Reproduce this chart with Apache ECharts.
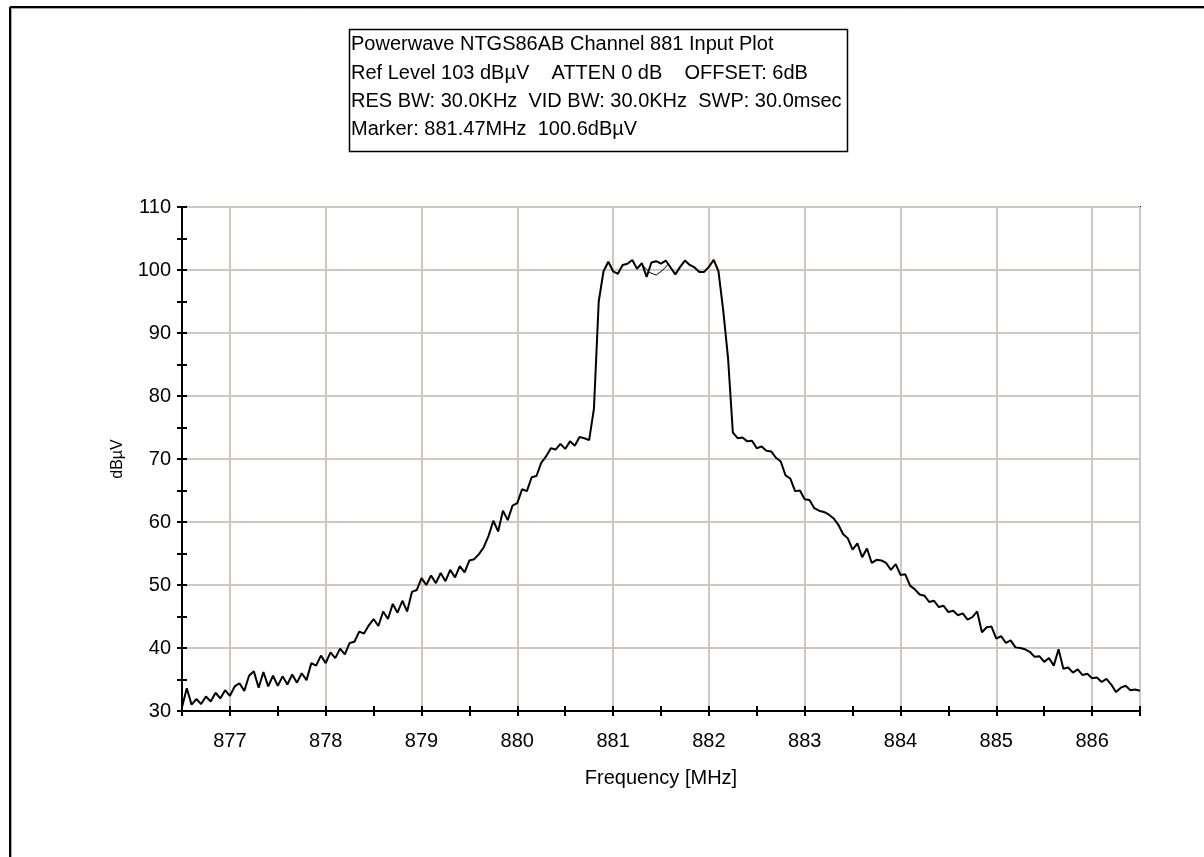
<!DOCTYPE html>
<html>
<head>
<meta charset="utf-8">
<title>Powerwave NTGS86AB Channel 881 Input Plot</title>
<script src="https://cdn.jsdelivr.net/npm/echarts@6/dist/echarts.min.js"></script>
<style>
  html, body { margin: 0; padding: 0; background: #fff; }
  #chart { width: 1204px; height: 857px; }
</style>
</head>
<body>
<div id="chart"></div>
<script>
// sweep: 876.5 .. 886.5 MHz, one reading every 0.05 MHz
const freqStart = 876.5;
const freqStep = 0.05;
const freqMin = 876.5;
const freqMax = 886.5;
const levelMin = 30;
const levelMax = 110;

// trace level in dBµV, one row per MHz (x.50 .. x+1.45)
const levelRows = [
  [30.6, 33.6, 31.0, 31.9, 31.1, 32.3, 31.5, 32.9, 32.0, 33.3, 32.4, 33.9, 34.4, 33.2, 35.6, 36.3, 33.7, 36.2, 33.9, 35.6],
  [34.0, 35.5, 34.2, 35.8, 34.5, 36.0, 34.9, 37.6, 37.2, 38.8, 37.6, 39.3, 38.4, 39.9, 39.0, 40.8, 41.0, 42.6, 42.3, 43.6],
  [44.6, 43.5, 45.8, 44.6, 47.0, 45.6, 47.5, 45.8, 48.9, 49.2, 51.1, 50.0, 51.5, 50.3, 51.9, 50.6, 52.4, 51.2, 53.0, 52.0],
  [53.9, 54.1, 54.9, 56.0, 57.8, 60.2, 58.5, 61.8, 60.3, 62.6, 63.0, 65.2, 64.9, 67.1, 67.3, 69.4, 70.4, 71.7, 71.5, 72.4],
  [71.6, 72.8, 72.1, 73.5, 73.3, 73.0, 78.0, 95.0, 99.8, 101.3, 99.8, 99.4, 100.8, 101.0, 101.6, 100.2, 101.1, 98.9, 101.2, 101.4],
  [101.0, 101.5, 100.4, 99.3, 100.5, 101.5, 100.8, 100.4, 99.7, 99.7, 100.5, 101.6, 99.8, 93.5, 86.0, 74.2, 73.3, 73.4, 72.8, 72.9],
  [71.7, 72.0, 71.3, 71.2, 70.2, 69.6, 67.4, 66.9, 64.9, 65.0, 63.6, 63.5, 62.2, 61.8, 61.6, 61.2, 60.6, 59.6, 58.1, 57.4],
  [55.6, 56.6, 54.4, 55.8, 53.5, 54.0, 53.9, 53.5, 52.4, 53.3, 51.6, 51.7, 49.9, 49.3, 48.5, 48.3, 47.3, 47.5, 46.5, 46.7],
  [45.7, 45.9, 45.2, 45.5, 44.5, 44.9, 45.8, 42.5, 43.3, 43.4, 41.5, 41.9, 40.8, 41.2, 40.1, 40.0, 39.8, 39.4, 38.6, 38.7],
  [37.8, 38.4, 37.2, 39.8, 36.7, 36.9, 36.1, 36.6, 35.7, 35.9, 35.2, 35.3, 34.6, 35.1, 34.2, 33.0, 33.7, 34.0, 33.3, 33.4],
  [33.2]
];

// short second trace on the passband top (marker sweep)
const markerFreq = [881.30, 881.38, 881.45, 881.52, 881.58];
const markerLevel = [100.9, 99.6, 99.2, 100.0, 101.0];

const infoLines = [
  'Powerwave NTGS86AB Channel 881 Input Plot',
  'Ref Level 103 dBµV    ATTEN 0 dB    OFFSET: 6dB',
  'RES BW: 30.0KHz  VID BW: 30.0KHz  SWP: 30.0msec',
  'Marker: 881.47MHz  100.6dBµV'
];
const infoLineY = [44, 73, 101, 129];

const COLORS = {
  ink: '#000000',
  grid: '#d2c6bd',
  frameShade: '#a8a8a8'
};
const FONT = '"Liberation Sans", Arial, sans-serif';

const trace = [];
levelRows.flat().forEach((v, i) => {
  trace.push([+(freqStart + i * freqStep).toFixed(2), v]);
});
const marker = markerFreq.map((f, i) => [f, markerLevel[i]]);

// axis used only for drawing the cross ticks
const tickAxis = (min, max, interval, inside, position) => ({
  type: 'value',
  position,
  min,
  max,
  interval,
  axisLine: { show: false, onZero: false },
  axisTick: { show: true, inside, length: 5, lineStyle: { color: COLORS.ink, width: 2 } },
  axisLabel: { show: false },
  splitLine: { show: false }
});

const infoText = infoLines.map((t, i) => ({
  type: 'text',
  x: 351,
  y: infoLineY[i],
  style: { text: t, font: `20px ${FONT}`, fill: COLORS.ink, verticalAlign: 'middle', textVerticalAlign: 'middle' }
}));

const option = {
  backgroundColor: '#fff',
  animation: false,
  grid: {
    left: 182,
    top: 207,
    width: 958,
    height: 504,
    show: true,
    borderColor: COLORS.ink,
    borderWidth: 2,
    containLabel: false
  },
  xAxis: [
    {
      type: 'value',
      position: 'bottom',
      min: freqMin,
      max: freqMax,
      splitNumber: 10,
      name: 'Frequency [MHz]',
      nameLocation: 'middle',
      nameGap: 57,
      nameTextStyle: { fontFamily: FONT, fontSize: 20, color: COLORS.ink },
      axisLine: { onZero: false, lineStyle: { color: COLORS.ink, width: 2 } },
      axisTick: { show: false },
      axisLabel: {
        fontFamily: FONT,
        fontSize: 20,
        color: COLORS.ink,
        margin: 20,
        formatter: v => (Number.isInteger(v) ? String(v) : '')
      },
      splitLine: { show: true, lineStyle: { color: COLORS.grid, width: 2 } }
    },
    tickAxis(freqMin, freqMax, 0.5, false, 'bottom'),
    tickAxis(freqMin, freqMax, 0.5, true, 'bottom')
  ],
  yAxis: [
    {
      type: 'value',
      position: 'left',
      min: levelMin,
      max: levelMax,
      interval: 10,
      name: 'dBµV',
      nameLocation: 'middle',
      nameRotate: 90,
      nameGap: 56,
      nameTextStyle: { fontFamily: FONT, fontSize: 16, color: COLORS.ink },
      axisLine: { onZero: false, lineStyle: { color: COLORS.ink, width: 2 } },
      axisTick: { show: false },
      axisLabel: { fontFamily: FONT, fontSize: 20, color: COLORS.ink, margin: 11 },
      splitLine: { show: true, lineStyle: { color: COLORS.grid, width: 2 } }
    },
    tickAxis(levelMin, levelMax, 5, false, 'left'),
    tickAxis(levelMin, levelMax, 5, true, 'left')
  ],
  series: [
    {
      name: 'trace',
      type: 'line',
      data: trace,
      symbol: 'none',
      smooth: false,
      clip: true,
      z: 5,
      lineStyle: { color: COLORS.ink, width: 2 }
    },
    {
      name: 'marker',
      type: 'line',
      data: marker,
      symbol: 'none',
      z: 4,
      lineStyle: { color: COLORS.ink, width: 1 }
    }
  ],
  graphic: [
    // window frame (left and top edges)
    { type: 'line', shape: { x1: 10, y1: 7, x2: 1204, y2: 7 }, style: { stroke: COLORS.ink, lineWidth: 2 } },
    { type: 'line', shape: { x1: 10, y1: 7, x2: 10, y2: 857 }, style: { stroke: COLORS.ink, lineWidth: 2 } },
    { type: 'line', shape: { x1: 11.5, y1: 8.5, x2: 1204, y2: 8.5 }, style: { stroke: COLORS.frameShade, lineWidth: 1 } },
    { type: 'line', shape: { x1: 11.5, y1: 8.5, x2: 11.5, y2: 857 }, style: { stroke: COLORS.frameShade, lineWidth: 1 } },
    // info box
    {
      type: 'rect',
      shape: { x: 349.5, y: 29.5, width: 498, height: 122 },
      style: { fill: '#fff', stroke: COLORS.ink, lineWidth: 1.5 }
    },
    ...infoText
  ]
};

const myChart = echarts.init(document.getElementById('chart'), null, { renderer: 'canvas' });
myChart.setOption(option);
</script>
</body>
</html>
